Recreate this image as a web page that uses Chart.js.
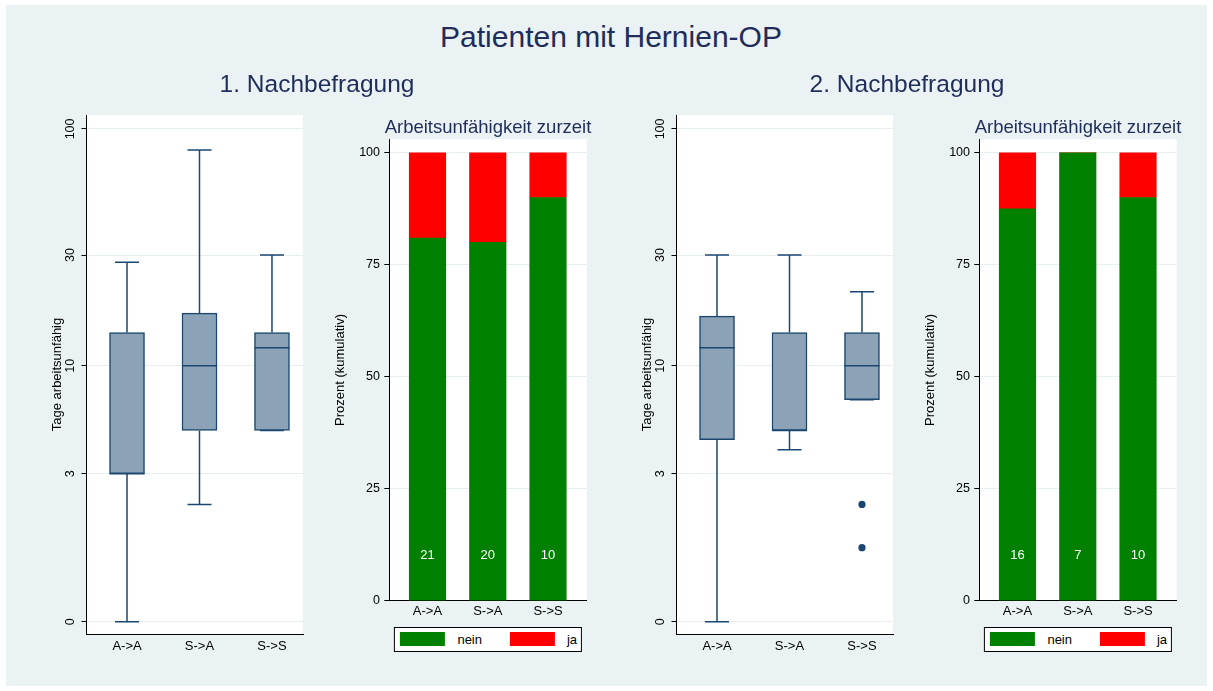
<!DOCTYPE html>
<html lang="de">
<head>
<meta charset="utf-8">
<title>Patienten mit Hernien-OP</title>
<script src="https://cdn.jsdelivr.net/npm/chart.js@4.4.1/dist/chart.umd.min.js"></script>
<style>
    body { margin: 0; background: #fff; font-family: "Liberation Sans", Arial, sans-serif; }
    #bg { position: absolute; left: 6px; top: 5px; width: 1201px; height: 681px; background: #eaf2f3; }
    canvas { position: absolute; }
    .txt { position: absolute; white-space: nowrap; transform: translateX(-50%); color: #1e2d5a; }
    .legend { position: absolute; top: 627.3px; height: 24.4px; box-sizing: border-box; border: 1px solid #000;
              background: #fff; display: flex; align-items: center; padding: 0 4px 0 5px;
              transform: translateX(-50%); font-size: 13px; color: #000; white-space: nowrap; }
    .legend .sw { display: inline-block; width: 45px; height: 14px; margin-right: 12.5px; vertical-align: middle; }
    .legend .item { display: flex; align-items: center; }
    .legend .item + .item { margin-left: 27.5px; }
</style>
</head>
<body>
<div id="bg"></div>

<canvas id="box1" width="282" height="568" style="left:40px;top:96px"></canvas>
<canvas id="bar1" width="280" height="490" style="left:320px;top:130px"></canvas>
<canvas id="box2" width="282" height="568" style="left:630px;top:96px"></canvas>
<canvas id="bar2" width="280" height="490" style="left:910px;top:130px"></canvas>

<div class="txt" style="left:611px;top:22.3px;font-size:30px;line-height:30px">Patienten mit Hernien-OP</div>
<div class="txt" style="left:317px;top:72px;font-size:24.5px;line-height:24.5px">1. Nachbefragung</div>
<div class="txt" style="left:907px;top:72px;font-size:24.5px;line-height:24.5px">2. Nachbefragung</div>
<div class="txt" style="left:488px;top:117.6px;font-size:18.5px;line-height:18.5px">Arbeitsunfähigkeit zurzeit</div>
<div class="txt" style="left:1078px;top:117.6px;font-size:18.5px;line-height:18.5px">Arbeitsunfähigkeit zurzeit</div>

<script>
// Kategorien und Achsen
const kategorien = ['A->A', 'S->A', 'S->S'];
const tageTicks = [0, 3, 10, 30, 100];
const prozentTicks = [0, 25, 50, 75, 100];

// 1. Nachbefragung: Tage arbeitsunfähig (Boxplot)
const b1Min = [0, 2, 5];
const b1Q1 = [3, 5, 5];
const b1Median = [3, 10, 12];
const b1Q3 = [14, 17, 14];
const b1Max = [28, 82, 30];
const b1Ausreisser = [[], [], []];

// 2. Nachbefragung: Tage arbeitsunfähig (Boxplot)
const b2Min = [0, 4, 7];
const b2Q1 = [4.5, 5, 7];
const b2Median = [12, 5, 10];
const b2Q3 = [16.5, 14, 14];
const b2Max = [30, 30, 21];
const b2Ausreisser = [[], [], [2, 1]];

// Arbeitsunfähigkeit zurzeit (Prozent kumulativ)
const serien = ['nein', 'ja'];
const serienFarben = ['#008000', '#ff0000'];
const a1Nein = [80.95, 80, 90];
const a1Ja = [19.05, 20, 10];
const a1N = [21, 20, 10];
const a2Nein = [87.5, 100, 90];
const a2Ja = [12.5, 0, 10];
const a2N = [16, 7, 10];

const navy = '#1a476f';
const boxFill = '#8ca3b7';
const gridColor = '#e6eef0';

Chart.defaults.font.family = '"Liberation Sans", Arial, sans-serif';
Chart.defaults.color = '#000';
Chart.defaults.animation = false;

// y-Achse log(x+1)
const tr = v => Math.log10(v + 1);

// keine Zusatzabstaende durch Achsenbeschriftung
const ohnePadding = s => { s.paddingTop = 0; s.paddingBottom = 0; s.paddingLeft = 0; s.paddingRight = 0; };

// weisser Plotbereich
const plotBg = {
    id: 'plotBg',
    beforeDraw(chart) {
        const {ctx, chartArea: a} = chart;
        ctx.save();
        ctx.fillStyle = '#fff';
        ctx.fillRect(a.left, a.top, a.right - a.left, a.bottom - a.top);
        ctx.restore();
    }
};

// Fallzahlen in den Balken
const nLabels = {
    id: 'nLabels',
    afterDatasetsDraw(chart, args, opts) {
        if (!opts.n) return;
        const ctx = chart.ctx;
        const meta = chart.getDatasetMeta(0);
        const y = chart.scales.y.getPixelForValue(opts.y);
        ctx.save();
        ctx.fillStyle = '#fff';
        ctx.font = '13px "Liberation Sans", Arial, sans-serif';
        ctx.textAlign = 'center';
        ctx.textBaseline = 'middle';
        meta.data.forEach((bar, i) => ctx.fillText(String(opts.n[i]), bar.x, y));
        ctx.restore();
    }
};

function xAchse(min, max, h, pad) {
    return {
        type: 'linear', min: min, max: max, offset: false, stacked: true,
        afterBuildTicks: s => { s.ticks = kategorien.map((k, i) => ({value: i + 1})); },
        afterFit: s => { s.height = h; ohnePadding(s); },
        ticks: { callback: (v, i) => kategorien[i], padding: pad, font: {size: 13}, maxRotation: 0, autoSkip: false },
        grid: { display: false, drawTicks: false },
        border: { display: true, color: '#000', width: 1 }
    };
}

function boxplot(id, mn, q1, med, q3, mx, ausr) {
    const whisker = [];
    const caps = [];
    const punkte = [];
    kategorien.forEach((k, i) => {
        const x = i + 1;
        whisker.push({x: x, y: tr(mn[i])}, {x: x, y: tr(q1[i])}, {x: x, y: null});
        whisker.push({x: x, y: tr(q3[i])}, {x: x, y: tr(mx[i])}, {x: x, y: null});
        caps.push({x: x, y: tr(mn[i])}, {x: x, y: tr(mx[i])});
        ausr[i].forEach(v => punkte.push({x: x, y: tr(v)}));
    });

    new Chart(document.getElementById(id), {
        type: 'bar',
        data: {
            datasets: [
                { type: 'scatter', data: punkte, pointRadius: 3.6, backgroundColor: navy, borderColor: navy, pointBorderWidth: 0, order: 0 },
                { type: 'scatter', data: med.map((v, i) => ({x: i + 1, y: tr(v)})), pointStyle: 'line', pointRadius: 17.5,
                  borderColor: navy, backgroundColor: navy, pointBorderWidth: 1.5, order: 1 },
                { type: 'bar', data: q1.map((v, i) => ({x: i + 1, y: [tr(v), tr(q3[i])]})), backgroundColor: boxFill,
                  borderColor: navy, borderWidth: 1.5, borderSkipped: false, barThickness: 35, order: 2 },
                { type: 'scatter', data: caps, pointStyle: 'line', pointRadius: 12, borderColor: navy, backgroundColor: navy,
                  pointBorderWidth: 1.5, order: 3 },
                { type: 'scatter', data: whisker, showLine: true, spanGaps: false, borderColor: navy, borderWidth: 1.5,
                  pointRadius: 0, order: 4 }
            ]
        },
        options: {
            responsive: false,
            devicePixelRatio: 1,
            events: [],
            // Punktradius der Medianlinie (17.5 + 1.5) erzwingt 19px Mindestabstand
            layout: { padding: {top: 19, right: 19, bottom: 0, left: 0} },
            plugins: { legend: {display: false}, tooltip: {enabled: false} },
            scales: {
                x: xAchse(0.441, 3.428, 30, 5),
                y: {
                    min: -0.05, max: 2.061,
                    afterBuildTicks: s => { s.ticks = tageTicks.map(v => ({value: tr(v)})); },
                    afterFit: s => { s.width = 46.5; ohnePadding(s); },
                    ticks: { callback: (v, i) => tageTicks[i], minRotation: 90, maxRotation: 90, crossAlign: 'center',
                             padding: 1, font: {size: 12.5} },
                    grid: { color: gridColor, tickColor: '#000', tickLength: 5 },
                    border: { color: '#000', width: 1 },
                    title: { display: true, text: 'Tage arbeitsunfähig', font: {size: 13}, padding: {top: 9.4, bottom: 0} }
                }
            }
        },
        plugins: [plotBg]
    });
}

function prozentBalken(id, nein, ja, n) {
    const werte = [nein, ja];
    new Chart(document.getElementById(id), {
        type: 'bar',
        data: {
            datasets: serien.map((s, j) => ({
                label: s,
                data: werte[j].map((v, i) => ({x: i + 1, y: v})),
                backgroundColor: serienFarben[j],
                borderWidth: 0,
                barThickness: 36.5
            }))
        },
        options: {
            responsive: false,
            devicePixelRatio: 1,
            events: [],
            layout: { padding: {top: 9.3, right: 13.3, bottom: 0, left: 0} },
            plugins: { legend: {display: false}, tooltip: {enabled: false}, nLabels: {n: n, y: 10} },
            scales: {
                x: xAchse(0.366, 3.642, 19.3, 3),
                y: {
                    stacked: true, min: 0, max: 103,
                    afterBuildTicks: s => { s.ticks = prozentTicks.map(v => ({value: v})); },
                    afterFit: s => { s.width = 69.3; ohnePadding(s); },
                    ticks: { callback: (v, i) => prozentTicks[i], padding: 4.3, font: {size: 12.5} },
                    grid: { color: gridColor, tickColor: '#000', tickLength: 5 },
                    border: { color: '#000', width: 1 },
                    title: { display: true, text: 'Prozent (kumulativ)', font: {size: 13}, padding: {top: 12.2, bottom: 0} }
                }
            }
        },
        plugins: [plotBg, nLabels]
    });
}

// Legende unter den Balken
function legende(cx) {
    const box = document.createElement('div');
    box.className = 'legend';
    box.style.left = cx + 'px';
    serien.forEach((s, i) => {
        const item = document.createElement('div');
        item.className = 'item';
        const sw = document.createElement('span');
        sw.className = 'sw';
        sw.style.background = serienFarben[i];
        const t = document.createElement('span');
        t.textContent = s;
        item.appendChild(sw);
        item.appendChild(t);
        box.appendChild(item);
    });
    document.body.appendChild(box);
}

boxplot('box1', b1Min, b1Q1, b1Median, b1Q3, b1Max, b1Ausreisser);
prozentBalken('bar1', a1Nein, a1Ja, a1N);
boxplot('box2', b2Min, b2Q1, b2Median, b2Q3, b2Max, b2Ausreisser);
prozentBalken('bar2', a2Nein, a2Ja, a2N);
legende(488);
legende(1078);
</script>
</body>
</html>
